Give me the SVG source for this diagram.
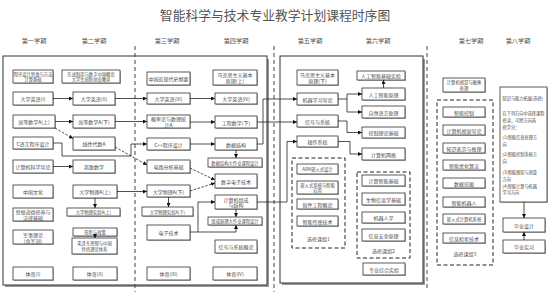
<svg xmlns="http://www.w3.org/2000/svg" width="550" height="302" viewBox="0 0 550 302">
<defs>
<style>
.t{font-family:"Noto Sans CJK SC","Noto Sans",sans-serif;fill:#4a4a4a;text-anchor:middle;dominant-baseline:central;font-size:5px}
.h{font-family:"Noto Sans CJK SC","Noto Sans",sans-serif;fill:#555;text-anchor:middle;dominant-baseline:central;font-size:6.2px}
.tl{font-family:"Noto Sans CJK SC","Noto Sans",sans-serif;fill:#4a4a4a;font-size:4.2px;dominant-baseline:central}
.b{fill:#fff;stroke:#333;stroke-width:0.8}
.sh{fill:#b5b5b5}
.fr{fill:#fff;stroke:#333;stroke-width:1}
.fs{fill:#999}
.ln{fill:none;stroke:#222;stroke-width:0.8}
.dl{fill:none;stroke:#222;stroke-width:0.8;stroke-dasharray:2.5,1.5}
.grp{fill:none;stroke:#222;stroke-width:1;stroke-dasharray:4,2.5}
.div{fill:none;stroke:#444;stroke-width:1;stroke-dasharray:4,3}
.sm{font-size:4.3px}
</style>
<marker id="a" viewBox="0 0 6 6" refX="6" refY="3" markerWidth="4" markerHeight="4" markerUnits="userSpaceOnUse" orient="auto"><path d="M0,0L6,3L0,6z" fill="#111"/></marker>
</defs>
<rect width="550" height="302" fill="#fff"/>
<text x="275" y="14" font-family="'Noto Sans CJK SC',sans-serif" font-size="12.8" fill="#555" text-anchor="middle" dominant-baseline="central">智能科学与技术专业教学计划课程时序图</text>
<g id="headers">
<text class="h" x="34" y="40">第一学期</text>
<text class="h" x="94" y="40">第二学期</text>
<text class="h" x="167" y="40">第三学期</text>
<text class="h" x="236" y="40">第四学期</text>
<text class="h" x="310" y="40">第五学期</text>
<text class="h" x="378" y="40">第六学期</text>
<text class="h" x="471" y="40">第七学期</text>
<text class="h" x="518" y="40">第八学期</text>
</g>
<g id="frames">
<rect class="fs" x="5" y="59" width="264" height="228"/>
<rect class="fr" x="3" y="56" width="264" height="229"/>
<rect class="fs" x="282" y="59" width="143" height="226"/>
<rect class="fr" x="280" y="56" width="143" height="227"/>
<path class="div" d="M135,46V292M274,46V292M427,46V290"/>
<rect class="grp" x="292" y="158" width="53" height="90"/>
<rect class="grp" x="357" y="172" width="53" height="86"/>
<rect class="grp" x="437" y="100" width="56" height="165"/>
<text class="t" x="318.5" y="238">选修课组1</text>
<text class="t" x="383.5" y="250">选修课组2</text>
<text class="t" x="465" y="253">选修课组3</text>
</g>
<g id="c1r1"><rect class="sh" x="14" y="71" width="40" height="13"/><rect class="b" x="13" y="70" width="40" height="13"/><text class="t sm" x="33" y="73.8">程序设计思维与方法</text><text class="t sm" x="33" y="79.2">计算基础</text></g>
<g id="c1r2"><rect class="sh" x="14" y="93" width="40" height="13"/><rect class="b" x="13" y="92" width="40" height="13"/><text class="t" x="33" y="98.5">大学英语(I)</text></g>
<g id="c1r3"><rect class="sh" x="14" y="116" width="42" height="13"/><rect class="b" x="13" y="115" width="42" height="13"/><text class="t" x="34" y="121.5">高等数学A(上)</text></g>
<g id="c1r4"><rect class="sh" x="14" y="138" width="40" height="12"/><rect class="b" x="13" y="137" width="40" height="12"/><text class="t" x="33" y="143">C语言程序设计</text></g>
<g id="c1r5"><rect class="sh" x="14" y="161" width="40" height="13"/><rect class="b" x="13" y="160" width="40" height="13"/><text class="t" x="33" y="166.5">计算机科学导论</text></g>
<g id="c1r6"><rect class="sh" x="14" y="186" width="40" height="13"/><rect class="b" x="13" y="185" width="40" height="13"/><text class="t" x="33" y="191.5">中国文化</text></g>
<g id="c1r7"><rect class="sh" x="14" y="209" width="40" height="13"/><rect class="b" x="13" y="208" width="40" height="13"/><text class="t" x="33" y="211.7">思想道德修养与</text><text class="t" x="33" y="217.3">法律基础</text></g>
<g id="c1r8"><rect class="sh" x="14" y="231" width="40" height="14"/><rect class="b" x="13" y="230" width="40" height="14"/><text class="t" x="33" y="234">军事理论</text><text class="t" x="33" y="240">(含军训)</text></g>
<g id="c1r9"><rect class="sh" x="14" y="268" width="40" height="13"/><rect class="b" x="13" y="267" width="40" height="13"/><text class="t" x="33" y="273.5">体育(I)</text></g>
<g id="c2r1"><rect class="sh" x="63" y="71" width="58" height="13"/><rect class="b" x="62" y="70" width="58" height="13"/><text class="t sm" x="91" y="73.8">先进制造与数字中国概论</text><text class="t sm" x="91" y="79.2">大学生创新创业教育</text></g>
<g id="c2r2"><rect class="sh" x="74" y="93" width="42" height="13"/><rect class="b" x="73" y="92" width="42" height="13"/><text class="t" x="94" y="98.5">大学英语(II)</text></g>
<g id="c2r3"><rect class="sh" x="74" y="116" width="42" height="13"/><rect class="b" x="73" y="115" width="42" height="13"/><text class="t" x="94" y="121.5">高等数学A(下)</text></g>
<g id="c2r4"><rect class="sh" x="74" y="138" width="42" height="13"/><rect class="b" x="73" y="137" width="42" height="13"/><text class="t" x="94" y="143.5">线性代数A</text></g>
<g id="c2r5"><rect class="sh" x="74" y="161" width="42" height="13"/><rect class="b" x="73" y="160" width="42" height="13"/><text class="t" x="94" y="166.5">离散数学</text></g>
<g id="c2r6"><rect class="sh" x="74" y="186" width="44" height="13"/><rect class="b" x="73" y="185" width="44" height="13"/><text class="t" x="95" y="191.5">大学物理A(上)</text></g>
<g id="c2r6b"><rect class="sh" x="68" y="209" width="53" height="8"/><rect class="b" x="67" y="208" width="53" height="8"/><text class="t sm" x="93.5" y="212">大学物理实验A(上)</text></g>
<g id="c2r7"><rect class="sh" x="74" y="229" width="44" height="8"/><rect class="b" x="73" y="228" width="44" height="8"/><text class="t sm" x="95" y="232">形势与政策</text></g>
<g id="c2r8"><rect class="sh" x="73" y="239" width="45" height="16"/><rect class="b" x="72" y="238" width="45" height="16"/><text class="t sm" x="94.5" y="243.2">毛泽东思想与中国</text><text class="t sm" x="94.5" y="248.8">特色理论体系</text></g>
<g id="c2r9"><rect class="sh" x="74" y="268" width="44" height="13"/><rect class="b" x="73" y="267" width="44" height="13"/><text class="t" x="95" y="273.5">体育(II)</text></g>
<g id="c3r1"><rect class="sh" x="148" y="73" width="43" height="13"/><rect class="b" x="147" y="72" width="43" height="13"/><text class="t" x="168.5" y="78.5">中国近现代史纲要</text></g>
<g id="c3r2"><rect class="sh" x="148" y="94" width="43" height="11"/><rect class="b" x="147" y="93" width="43" height="11"/><text class="t" x="168.5" y="98.5">大学英语(III)</text></g>
<g id="c3r3"><rect class="sh" x="148" y="116" width="43" height="13"/><rect class="b" x="147" y="115" width="43" height="13"/><text class="t" x="168.5" y="118.7">概率论与数理统</text><text class="t" x="168.5" y="124.3">计A</text></g>
<g id="c3r4"><rect class="sh" x="148" y="139" width="43" height="12"/><rect class="b" x="147" y="138" width="43" height="12"/><text class="t" x="168.5" y="144">C++程序设计</text></g>
<g id="c3r5"><rect class="sh" x="148" y="161" width="43" height="13"/><rect class="b" x="147" y="160" width="43" height="13"/><text class="t" x="168.5" y="166.5">电路分析基础</text></g>
<g id="c3r6"><rect class="sh" x="148" y="186" width="43" height="12"/><rect class="b" x="147" y="185" width="43" height="12"/><text class="t" x="168.5" y="191">大学物理A(下)</text></g>
<g id="c3r6b"><rect class="sh" x="143" y="208" width="51" height="9"/><rect class="b" x="142" y="207" width="51" height="9"/><text class="t sm" x="167.5" y="211.5">大学物理实验A(下)</text></g>
<g id="c3r7"><rect class="sh" x="148" y="226" width="43" height="15"/><rect class="b" x="147" y="225" width="43" height="15"/><text class="t" x="168.5" y="232.5">电子技术</text></g>
<g id="c3r9"><rect class="sh" x="148" y="268" width="43" height="13"/><rect class="b" x="147" y="267" width="43" height="13"/><text class="t" x="168.5" y="273.5">体育(III)</text></g>
<g id="c4r1"><rect class="sh" x="214" y="71" width="44" height="15"/><rect class="b" x="213" y="70" width="44" height="15"/><text class="t" x="235" y="74.7">马克思主义基本</text><text class="t" x="235" y="80.3">原理(上)</text></g>
<g id="c4r2"><rect class="sh" x="216" y="94" width="42" height="11"/><rect class="b" x="215" y="93" width="42" height="11"/><text class="t" x="236" y="98.5">大学英语(IV)</text></g>
<g id="c4r3"><rect class="sh" x="216" y="117" width="42" height="12"/><rect class="b" x="215" y="116" width="42" height="12"/><text class="t" x="236" y="122">工程数学(下)</text></g>
<g id="c4r4"><rect class="sh" x="216" y="139" width="42" height="12"/><rect class="b" x="215" y="138" width="42" height="12"/><text class="t" x="236" y="144">数据结构</text></g>
<g id="c4r5"><rect class="sh" x="209" y="159" width="54" height="9"/><rect class="b" x="208" y="158" width="54" height="9"/><text class="t sm" x="235" y="162.5">数据结构大作业课程设计</text></g>
<g id="c4r6"><rect class="sh" x="216" y="175" width="42" height="14"/><rect class="b" x="215" y="174" width="42" height="14"/><text class="t" x="236" y="181">数字电子技术</text></g>
<g id="c4r7"><rect class="sh" x="216" y="196" width="42" height="14"/><rect class="b" x="215" y="195" width="42" height="14"/><text class="t" x="236" y="199.2">计算机组成</text><text class="t" x="236" y="204.8">与结构</text></g>
<g id="c4r7b"><rect class="sh" x="209" y="218" width="54" height="8"/><rect class="b" x="208" y="217" width="54" height="8"/><text class="t sm" x="235" y="221">组成原理大作业课程设计</text></g>
<g id="c4r8"><rect class="sh" x="216" y="241" width="42" height="13"/><rect class="b" x="215" y="240" width="42" height="13"/><text class="t" x="236" y="246.5">信号与系统概论</text></g>
<g id="c4r9"><rect class="sh" x="214" y="268" width="44" height="13"/><rect class="b" x="213" y="267" width="44" height="13"/><text class="t" x="235" y="273.5">体育(IV)</text></g>
<g id="c5r1"><rect class="sh" x="298" y="71" width="41" height="15"/><rect class="b" x="297" y="70" width="41" height="15"/><text class="t" x="317.5" y="74.7">马克思主义基本</text><text class="t" x="317.5" y="80.3">原理(下)</text></g>
<g id="c5r2"><rect class="sh" x="298" y="94" width="41" height="12"/><rect class="b" x="297" y="93" width="41" height="12"/><text class="t" x="317.5" y="99">机器学习导论</text></g>
<g id="c5r3"><rect class="sh" x="298" y="116" width="41" height="12"/><rect class="b" x="297" y="115" width="41" height="12"/><text class="t" x="317.5" y="121">信号与系统</text></g>
<g id="c5r4"><rect class="sh" x="298" y="137" width="41" height="11"/><rect class="b" x="297" y="136" width="41" height="11"/><text class="t" x="317.5" y="141.5">操作系统</text></g>
<g id="g1a"><rect class="sh" x="298" y="165" width="41" height="10"/><rect class="b" x="297" y="164" width="41" height="10"/><text class="t sm" x="317.5" y="169">ARM嵌入式设计</text></g>
<g id="g1b"><rect class="sh" x="298" y="182" width="41" height="13"/><rect class="b" x="297" y="181" width="41" height="13"/><text class="t sm" x="317.5" y="184.8">嵌入式系统与智能</text><text class="t sm" x="317.5" y="190.2">应用</text></g>
<g id="g1c"><rect class="sh" x="298" y="200" width="41" height="10"/><rect class="b" x="297" y="199" width="41" height="10"/><text class="t" x="317.5" y="204">软件工程概论</text></g>
<g id="g1d"><rect class="sh" x="298" y="217" width="41" height="10"/><rect class="b" x="297" y="216" width="41" height="10"/><text class="t" x="317.5" y="221">智能传感技术</text></g>
<g id="c6r0"><rect class="sh" x="358" y="72" width="48" height="9"/><rect class="b" x="357" y="71" width="48" height="9"/><text class="t" x="381" y="75.5">人工智能基础实验</text></g>
<g id="c6r1"><rect class="sh" x="363" y="89" width="43" height="12"/><rect class="b" x="362" y="88" width="43" height="12"/><text class="t" x="383.5" y="94">人工智能原理</text></g>
<g id="c6r2"><rect class="sh" x="363" y="107" width="43" height="12"/><rect class="b" x="362" y="106" width="43" height="12"/><text class="t" x="383.5" y="112">自然语言处理</text></g>
<g id="c6r3"><rect class="sh" x="363" y="128" width="43" height="11"/><rect class="b" x="362" y="127" width="43" height="11"/><text class="t" x="383.5" y="132.5">控制理论基础</text></g>
<g id="c6r4"><rect class="sh" x="363" y="149" width="43" height="12"/><rect class="b" x="362" y="148" width="43" height="12"/><text class="t" x="383.5" y="154">计算机网络</text></g>
<g id="g2a"><rect class="sh" x="363" y="176" width="43" height="11"/><rect class="b" x="362" y="175" width="43" height="11"/><text class="t" x="383.5" y="180.5">计算智能基础</text></g>
<g id="g2b"><rect class="sh" x="363" y="194" width="43" height="12"/><rect class="b" x="362" y="193" width="43" height="12"/><text class="t" x="383.5" y="199">生物信息学基础</text></g>
<g id="g2c"><rect class="sh" x="363" y="213" width="43" height="11"/><rect class="b" x="362" y="212" width="43" height="11"/><text class="t" x="383.5" y="217.5">机器人学</text></g>
<g id="g2d"><rect class="sh" x="363" y="230" width="43" height="12"/><rect class="b" x="362" y="229" width="43" height="12"/><text class="t" x="383.5" y="235">信息安全原理</text></g>
<g id="c6r5"><rect class="sh" x="364" y="264" width="42" height="12"/><rect class="b" x="363" y="263" width="42" height="12"/><text class="t" x="384" y="269">专业综合实验</text></g>
<g id="c7r1"><rect class="sh" x="444" y="79" width="42" height="14"/><rect class="b" x="443" y="78" width="42" height="14"/><text class="t sm" x="464" y="82.3">计算机视觉与图像</text><text class="t sm" x="464" y="87.7">处理</text></g>
<g id="g3a"><rect class="sh" x="444" y="108" width="42" height="10"/><rect class="b" x="443" y="107" width="42" height="10"/><text class="t" x="464" y="112">智能控制</text></g>
<g id="g3b"><rect class="sh" x="444" y="126" width="42" height="10"/><rect class="b" x="443" y="125" width="42" height="10"/><text class="t" x="464" y="130">计算机视觉导论</text></g>
<g id="g3c"><rect class="sh" x="444" y="144" width="42" height="10"/><rect class="b" x="443" y="143" width="42" height="10"/><text class="t" x="464" y="148">知识表示与推理</text></g>
<g id="g3d"><rect class="sh" x="444" y="161" width="42" height="10"/><rect class="b" x="443" y="160" width="42" height="10"/><text class="t" x="464" y="165">智能优化算法</text></g>
<g id="g3e"><rect class="sh" x="444" y="179" width="42" height="10"/><rect class="b" x="443" y="178" width="42" height="10"/><text class="t" x="464" y="183">数据挖掘</text></g>
<g id="g3f"><rect class="sh" x="444" y="198" width="42" height="10"/><rect class="b" x="443" y="197" width="42" height="10"/><text class="t" x="464" y="202">智能机器人</text></g>
<g id="g3g"><rect class="sh" x="444" y="215" width="42" height="10"/><rect class="b" x="443" y="214" width="42" height="10"/><text class="t sm" x="464" y="219">嵌入式计算机系统</text></g>
<g id="g3h"><rect class="sh" x="444" y="234" width="42" height="10"/><rect class="b" x="443" y="233" width="42" height="10"/><text class="t" x="464" y="238">信息检索技术</text></g>
<g id="c8r1"><rect class="sh" x="501" y="88" width="47" height="115"/><rect class="b" x="500" y="87" width="47" height="115"/>
<text class="tl" x="502.5" y="98">知识与能力拓展(选修)</text>
<text class="tl" x="502.5" y="113">在下列方向中选择课程</text>
<text class="tl" x="502.5" y="120">修读，可跨方向选</text>
<text class="tl" x="502.5" y="127">修学分：</text>
<text class="tl" x="502.5" y="137">(1)智能信息处理方</text>
<text class="tl" x="502.5" y="143.5">向</text>
<text class="tl" x="502.5" y="154">(2)智能控制系统方</text>
<text class="tl" x="502.5" y="160.5">向</text>
<text class="tl" x="502.5" y="172">(3)智能感知与测量</text>
<text class="tl" x="502.5" y="178.5">方向</text>
<text class="tl" x="502.5" y="185.5">(4)智能计算与机器</text>
<text class="tl" x="502.5" y="192">学习方向</text></g>
<g id="c8r2"><rect class="sh" x="504" y="219" width="42" height="14"/><rect class="b" x="503" y="218" width="42" height="14"/><text class="t" x="524" y="225">毕业设计</text></g>
<g id="c8r3"><rect class="sh" x="504" y="241" width="42" height="13"/><rect class="b" x="503" y="240" width="42" height="13"/><text class="t" x="524" y="246.5">毕业实习</text></g>
<g id="connectors">
<path class="ln" d="M53,98.5H73" marker-end="url(#a)"/>
<path class="ln" d="M115,98.5H147" marker-end="url(#a)"/>
<path class="ln" d="M55,121.5H73" marker-end="url(#a)"/>
<path class="ln" d="M115,121.5H147" marker-end="url(#a)"/>
<path class="dl" d="M55,128L73,138.5" marker-end="url(#a)"/>
<path class="ln" d="M53,143H62V156H131V144H147" marker-end="url(#a)"/>
<path class="dl" d="M115,147L147,165" marker-end="url(#a)"/>
<path class="ln" d="M53,166.5H73" marker-end="url(#a)"/>
<path class="ln" d="M117,191.5H147" marker-end="url(#a)"/>
<path class="ln" d="M95,198V208" marker-end="url(#a)"/>
<path class="ln" d="M95,236V238" marker-end="url(#a)"/>
<path class="ln" d="M190,98.5H215" marker-end="url(#a)"/>
<path class="ln" d="M190,122H215" marker-end="url(#a)"/>
<path class="ln" d="M257,122H297" marker-end="url(#a)"/>
<path class="ln" d="M190,144H215" marker-end="url(#a)"/>
<path class="ln" d="M257,144H263V99H297" marker-end="url(#a)"/>
<path class="ln" d="M236,150V158" marker-end="url(#a)"/>
<path class="dl" d="M190,168L215,180" marker-end="url(#a)"/>
<path class="dl" d="M190,191L215,183" marker-end="url(#a)"/>
<path class="ln" d="M168.5,197V207" marker-end="url(#a)"/>
<path class="ln" d="M190,232H198V202H215" marker-end="url(#a)"/>
<path class="ln" d="M198,232H236V225" marker-end="url(#a)"/>
<path class="ln" d="M236,209V217" marker-end="url(#a)"/>
<path class="ln" d="M257,202H287V141.5H297" marker-end="url(#a)"/>
<path class="ln" d="M338,99H347V94H362" marker-end="url(#a)"/>
<path class="ln" d="M347,99V112H362" marker-end="url(#a)"/>
<path class="ln" d="M338,121H347V132.5H362" marker-end="url(#a)"/>
<path class="ln" d="M338,141.5H350V154H362" marker-end="url(#a)"/>
<path class="ln" d="M383.5,88V80" marker-end="url(#a)"/>
<path class="ln" d="M524,202V218" marker-end="url(#a)"/>
<path class="ln" d="M524,240V232" marker-end="url(#a)"/>
</g>
</svg>
